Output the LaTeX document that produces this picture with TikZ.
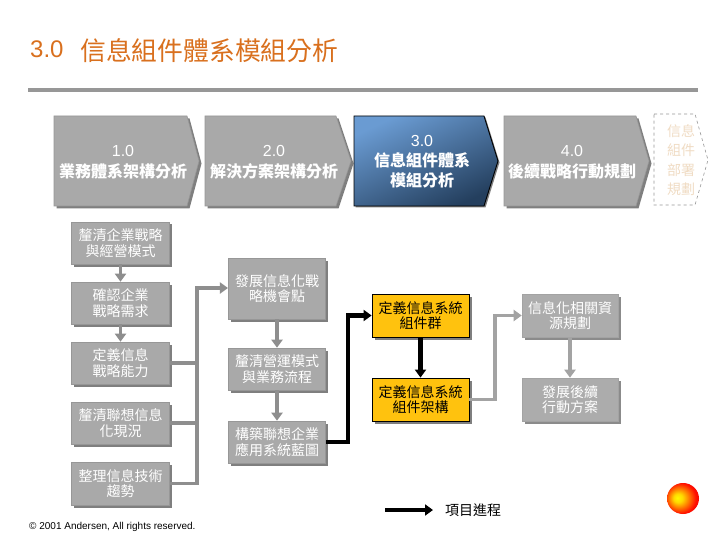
\documentclass[tikz,border=0pt]{standalone}
\usepackage{fontspec}
\setmainfont{Liberation Sans}
\newfontfamily\cjk{Noto Sans CJK TC}
\newfontfamily\lat{Liberation Sans}
\usetikzlibrary{arrows.meta,shadows,calc}
\definecolor{boxgray}{HTML}{A9A9A9}
\definecolor{edgegray}{HTML}{979797}
\definecolor{shadegray}{HTML}{7F7F7F}
\definecolor{linkgray}{HTML}{8E8E8E}
\definecolor{linkpale}{HTML}{A3A3A3}
\definecolor{goldbox}{HTML}{FFC20E}
\definecolor{titleorange}{HTML}{D9701E}
\definecolor{paletext}{HTML}{F0DCC4}
\definecolor{bluetop}{HTML}{6A9BD2}
\definecolor{bluebot}{HTML}{243F5E}
\pgfdeclareradialshading{ballshade}{\pgfpoint{-9bp}{1bp}}{%
  color(0bp)=(yellow!95!orange);
  color(7bp)=(yellow!70!orange);
  color(15bp)=(orange);
  color(25bp)=(red!90!orange);
  color(50bp)=(red!75!black)}
\tikzset{
  x=1pt,y=-1pt,
  flat/.style={drop shadow={shadow xshift=2.5pt,shadow yshift=-2.5pt,fill=shadegray,opacity=1}},
  graybox/.style={flat,fill=boxgray,draw=edgegray,line width=0.6pt,text=white,align=center,
    font=\cjk\fontsize{14}{15.5}\selectfont,inner sep=0pt,minimum width=97.5pt},
  paleshade/.style={drop shadow={shadow xshift=2.5pt,shadow yshift=-2.5pt,fill=linkpale!85!black,opacity=1}},
  paledbox/.style={graybox,fill=boxgray!95!white,paleshade},
  goldnode/.style={drop shadow={shadow xshift=2.5pt,shadow yshift=-2.5pt,fill=shadegray,opacity=1},
    fill=goldbox,draw=black,line width=0.8pt,text=black,align=center,
    font=\cjk\fontsize{14}{15.5}\selectfont,inner sep=0pt,minimum width=97pt,minimum height=43pt},
  chevtext/.style={text=white,align=center,font=\cjk\bfseries\fontsize{16}{21}\selectfont,inner sep=0pt},
  chevshape/.style={flat,fill=boxgray,draw=edgegray,line width=0.6pt},
  glink/.style={draw=linkgray,line width=3.6pt,-{Triangle[width=11pt,length=8pt]}},
  glinkplain/.style={draw=linkgray,line width=3.6pt},
  plink/.style={draw=linkpale,line width=3.6pt,-{Triangle[width=11pt,length=8pt]}},
  klink/.style={draw=black,line width=4.4pt,-{Triangle[width=11pt,length=8pt]}},
}
\begin{document}
\begin{tikzpicture}
\useasboundingbox (0,0) rectangle (720,540);
\fill[white] (0,0) rectangle (720,540);

% title
\node[anchor=west,inner sep=0pt,text=titleorange,font=\lat\fontsize{24}{26}\selectfont] (titlenum) at (30,49.5) {3.0};
\node[anchor=west,inner sep=0pt,text=titleorange,font=\cjk\fontsize{25.8}{28}\selectfont] (titletext) at (80,51) {信息組件體系模組分析};
\fill[edgegray] (28,88) rectangle (698,92);

% chevrons
\path[chevshape] (54,116) -- (187,116) -- (199,161) -- (187,206) -- (54,206) -- cycle;
\path[chevshape] (205,116) -- (336,116) -- (351,161) -- (336,206) -- (205,206) -- cycle;
\path[drop shadow={shadow xshift=1.5pt,shadow yshift=-1.5pt,fill=shadegray,opacity=1},
  draw=black,line width=0.9pt,top color=bluetop,bottom color=bluebot,shading angle=25]
  (354,116) -- (484,116) -- (498,161) -- (484,206) -- (354,206) -- cycle;
\path[chevshape] (504,116) -- (636,116) -- (649,161) -- (636,206) -- (504,206) -- cycle;
\draw[edgegray,dashed,line width=0.6pt] (654,114) -- (695,114) -- (708,160) -- (695,205) -- (654,205) -- cycle;

\node[chevtext] (c1) at (123,162) {{\lat\mdseries 1.0}\\業務體系架構分析};
\node[chevtext] (c2) at (274,162) {{\lat\mdseries 2.0}\\解決方案架構分析};
\node[chevtext,font=\cjk\bfseries\fontsize{16}{20}\selectfont] (c3) at (422,162) {{\lat\mdseries 3.0}\\信息組件體系\\模組分析};
\node[chevtext] (c4) at (572,162) {{\lat\mdseries 4.0}\\後續戰略行動規劃};
\node[chevtext,text=paletext,font=\cjk\fontsize{14}{19.5}\selectfont] (c5) at (681,160) {信息\\組件\\部署\\規劃};

% links underneath the boxes
\coordinate (busTop) at (197,288);
\coordinate (busBot) at (197,483);

% left column
\node[graybox,minimum height=42pt] (a1) at (120.5,243) {釐清企業戰略\\與經營模式};
\node[graybox,minimum height=42pt] (a2) at (120.5,303) {確認企業\\戰略需求};
\node[graybox,minimum height=42pt] (a3) at (120.5,363) {定義信息\\戰略能力};
\node[graybox,minimum height=42pt] (a4) at (120.5,423) {釐清聯想信息\\化現況};
\node[graybox,minimum height=43pt] (a5) at (120.5,483.5) {整理信息技術\\趨勢};

% middle column
\node[graybox,minimum height=61pt] (b1) at (277,288.5) {發展信息化戰\\略機會點};
\node[graybox,minimum height=42pt] (b2) at (277,369) {釐清營運模式\\與業務流程};
\node[graybox,minimum height=42pt] (b3) at (277,442) {構築聯想企業\\應用系統藍圖};

% right columns
\node[goldnode] (g1) at (420.5,315.5) {定義信息系統\\組件群};
\node[goldnode] (g2) at (420.5,399.5) {定義信息系統\\組件架構};
\node[paledbox,minimum width=96pt,minimum height=43pt,draw=linkpale,fill=linkpale!90!white] (d1) at (570,315.5) {信息化相關資\\源規劃};
\node[paledbox,minimum width=96pt,minimum height=43pt,draw=linkpale,fill=linkpale!90!white] (d2) at (570,399.5) {發展後續\\行動方案};

% gray links
\draw[glink] (a1) -- (a2);
\draw[glink] (a2) -- (a3);
\draw[glinkplain] (a3.east) -- (a3.east -| busTop);
\draw[glinkplain] (a4.east) -- (a4.east -| busTop);
\draw[glink] (a5.east) -- (a5.east -| busBot) -- (busTop) -- (busTop -| b1.west);
\draw[glink] (b1) -- (b2);
\draw[glink] (b2) -- (b3);

% black links
\coordinate (kTurn) at (348,315.5);
\draw[klink] (b3.east) -- (b3.east -| kTurn) -- (kTurn) -- (g1.west);
\draw[klink] (g1) -- (g2);

% pale links
\coordinate (pTurn) at (495,315.5);
\draw[plink] (g2.east) -- (g2.east -| pTurn) -- (pTurn) -- (d1.west);
\draw[plink] (d1) -- (d2);

% legend
\coordinate (legA) at (385,510);
\coordinate (legB) at (433,510);
\draw[klink] (legA) -- (legB);
\node[anchor=west,inner sep=0pt,font=\cjk\fontsize{14}{16}\selectfont] (legtext) at (445,510) {項目進程};

% footer
\node[anchor=west,inner sep=0pt,font=\lat\fontsize{10}{11}\selectfont] (copy) at (29,527) {© 2001 Andersen, All rights reserved.};

% ball
\shade[shading=ballshade] (683,498.5) ellipse (16 and 15.5);
\end{tikzpicture}
\end{document}
